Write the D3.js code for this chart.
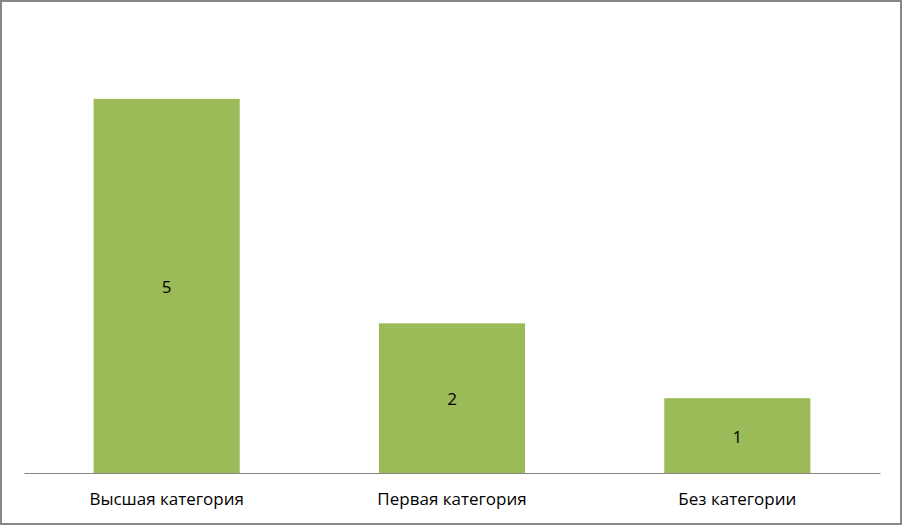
<!DOCTYPE html>
<html>
<head>
<meta charset="utf-8">
<script src="https://cdn.jsdelivr.net/npm/d3@7"></script>
<style>
  body { margin: 0; background: #fff; }
  svg text { font-family: "Open Sans", "Noto Sans", sans-serif; font-size: 17px; fill: #000; }
</style>
</head>
<body>
<svg id="chart" width="903" height="526"></svg>
<script>
const categories = ["Высшая категория", "Первая категория", "Без категории"];
const values = [5, 2, 1];

const svg = d3.select("#chart");
const W = 903, H = 526;

// рамка
svg.append("rect")
    .attr("x", 1).attr("y", 1)
    .attr("width", W - 3).attr("height", H - 3)
    .attr("fill", "#fff")
    .attr("stroke", "#878787")
    .attr("stroke-width", 2);

const plot = { left: 24, right: 880, top: 24, bottom: 473 };

const x = d3.scaleBand()
    .domain(categories)
    .range([plot.left, plot.right])
    .paddingInner(0.488)
    .paddingOuter(0.244);

const y = d3.scaleLinear()
    .domain([0, 6])
    .range([plot.bottom, plot.top]);

svg.append("g")
    .selectAll("rect")
    .data(values)
    .enter().append("rect")
    .attr("x", (d, i) => x(categories[i]))
    .attr("y", d => y(d))
    .attr("width", x.bandwidth())
    .attr("height", d => y(0) - y(d))
    .attr("fill", "#9bbb59");

// подписи значений
svg.append("g")
    .selectAll("text")
    .data(values)
    .enter().append("text")
    .attr("x", (d, i) => x(categories[i]) + x.bandwidth() / 2)
    .attr("y", d => (y(d) + y(0)) / 2 + 7)
    .attr("text-anchor", "middle")
    .text(d => d);

// ось X
const axis = svg.append("g")
    .attr("transform", `translate(0,${plot.bottom})`)
    .call(d3.axisBottom(x).tickSize(0).tickPadding(20));
axis.select(".domain").attr("stroke", "#878787").attr("stroke-width", 1);
axis.selectAll("text").style("font-size", "17px").attr("fill", "#000");
</script>
</body>
</html>
